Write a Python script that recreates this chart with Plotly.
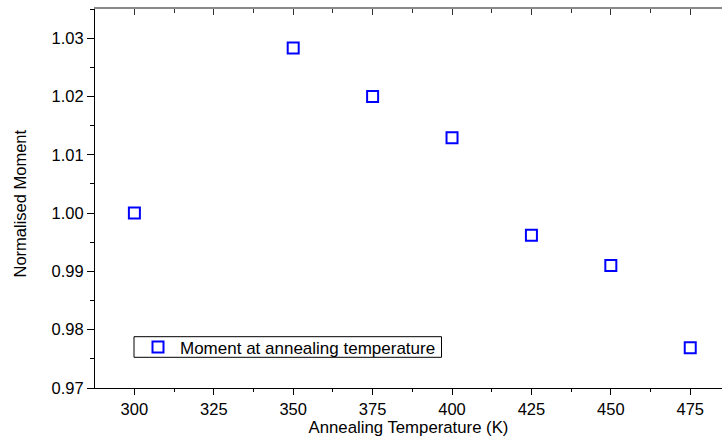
import plotly.graph_objects as go

# Annealing temperature (K) and moment normalised to the 300 K value
temperatures = [300, 350, 375, 400, 425, 450, 475]
normalised_moment = [1.000, 1.0283, 1.0200, 1.0129, 0.9962, 0.9910, 0.9769]

x_ticks = [300, 325, 350, 375, 400, 425, 450, 475]
y_ticks = [0.97, 0.98, 0.99, 1.00, 1.01, 1.02, 1.03]

x_range = [287.6, 485.0]
y_range = [0.97, 1.035]

FONT = "Liberation Sans, Arial, Helvetica, sans-serif"
FS = 16.5

# plot area geometry in pixels (used to place the legend frame and y title)
W, H = 722, 438
ML, MR, MT, MB = 95, 0, 9, 50
PW, PH = W - ML - MR, H - MT - MB


def px_x(px):
    return (px - ML) / PW


def px_y(py):
    return (H - MB - py) / PH


fig = go.Figure()
fig.add_trace(go.Scatter(
    x=temperatures,
    y=normalised_moment,
    mode="markers",
    name="Moment at annealing temperature",
    marker=dict(symbol="square-open", size=11, color="#0000ff",
                line=dict(width=2, color="#0000ff")),
))

# invisible trace so the top mirror axis is laid out
fig.add_trace(go.Scatter(x=[300], y=[1.0], xaxis="x2", mode="markers",
                         marker=dict(opacity=0), showlegend=False,
                         hoverinfo="skip"))

# legend frame
fig.add_shape(type="rect", xref="paper", yref="paper",
              x0=px_x(134), x1=px_x(441.5), y0=px_y(357.3), y1=px_y(336.7),
              line=dict(color="black", width=1), fillcolor="rgba(0,0,0,0)",
              layer="above")

# y-axis title
fig.add_annotation(text="Normalised Moment", textangle=-90,
                   xref="paper", yref="paper",
                   x=px_x(19.5), y=px_y(204),
                   xanchor="center", yanchor="middle", showarrow=False,
                   font=dict(family=FONT, size=FS, color="black"))

fig.update_layout(
    width=W, height=H,
    margin=dict(l=ML, r=MR, t=MT, b=MB),
    paper_bgcolor="white", plot_bgcolor="white",
    font=dict(family=FONT, size=FS, color="black"),
    showlegend=True,
    legend=dict(
        x=px_x(136), y=px_y(329.5),
        xanchor="left", yanchor="top",
        borderwidth=0, bgcolor="rgba(0,0,0,0)",
        font=dict(family=FONT, size=17, color="black"),
        itemwidth=34,
    ),
    xaxis=dict(
        range=x_range, tickvals=x_ticks,
        ticks="outside", ticklen=6, tickwidth=1, tickcolor="black",
        showline=True, linecolor="black", linewidth=1,
        showgrid=False, zeroline=False,
        minor=dict(ticks="outside", ticklen=3, tickwidth=1,
                   tickcolor="black", dtick=12.5, tick0=300, showgrid=False),
        title=dict(text="Annealing Temperature (K)", standoff=2,
                   font=dict(family=FONT, size=16.75)),
        tickfont=dict(family=FONT, size=FS),
    ),
    xaxis2=dict(
        range=x_range, matches="x", overlaying="x", side="top",
        tickvals=x_ticks, showticklabels=False,
        ticks="inside", ticklen=6, tickwidth=1, tickcolor="#333",
        showline=True, linecolor="#8a8a8a", linewidth=2,
        showgrid=False, zeroline=False,
        minor=dict(ticks="inside", ticklen=4, tickwidth=1,
                   tickcolor="#333", dtick=12.5, tick0=300, showgrid=False),
    ),
    yaxis=dict(
        range=y_range, tickvals=y_ticks, tickformat=".2f",
        ticks="outside", ticklen=7, tickwidth=1, tickcolor="black",
        showline=True, linecolor="black", linewidth=1,
        showgrid=False, zeroline=False,
        minor=dict(ticks="outside", ticklen=4, tickwidth=1,
                   tickcolor="black", dtick=0.005, tick0=0.97, showgrid=False),
        tickfont=dict(family=FONT, size=FS),
    ),
)

fig.write_html("out.html")
